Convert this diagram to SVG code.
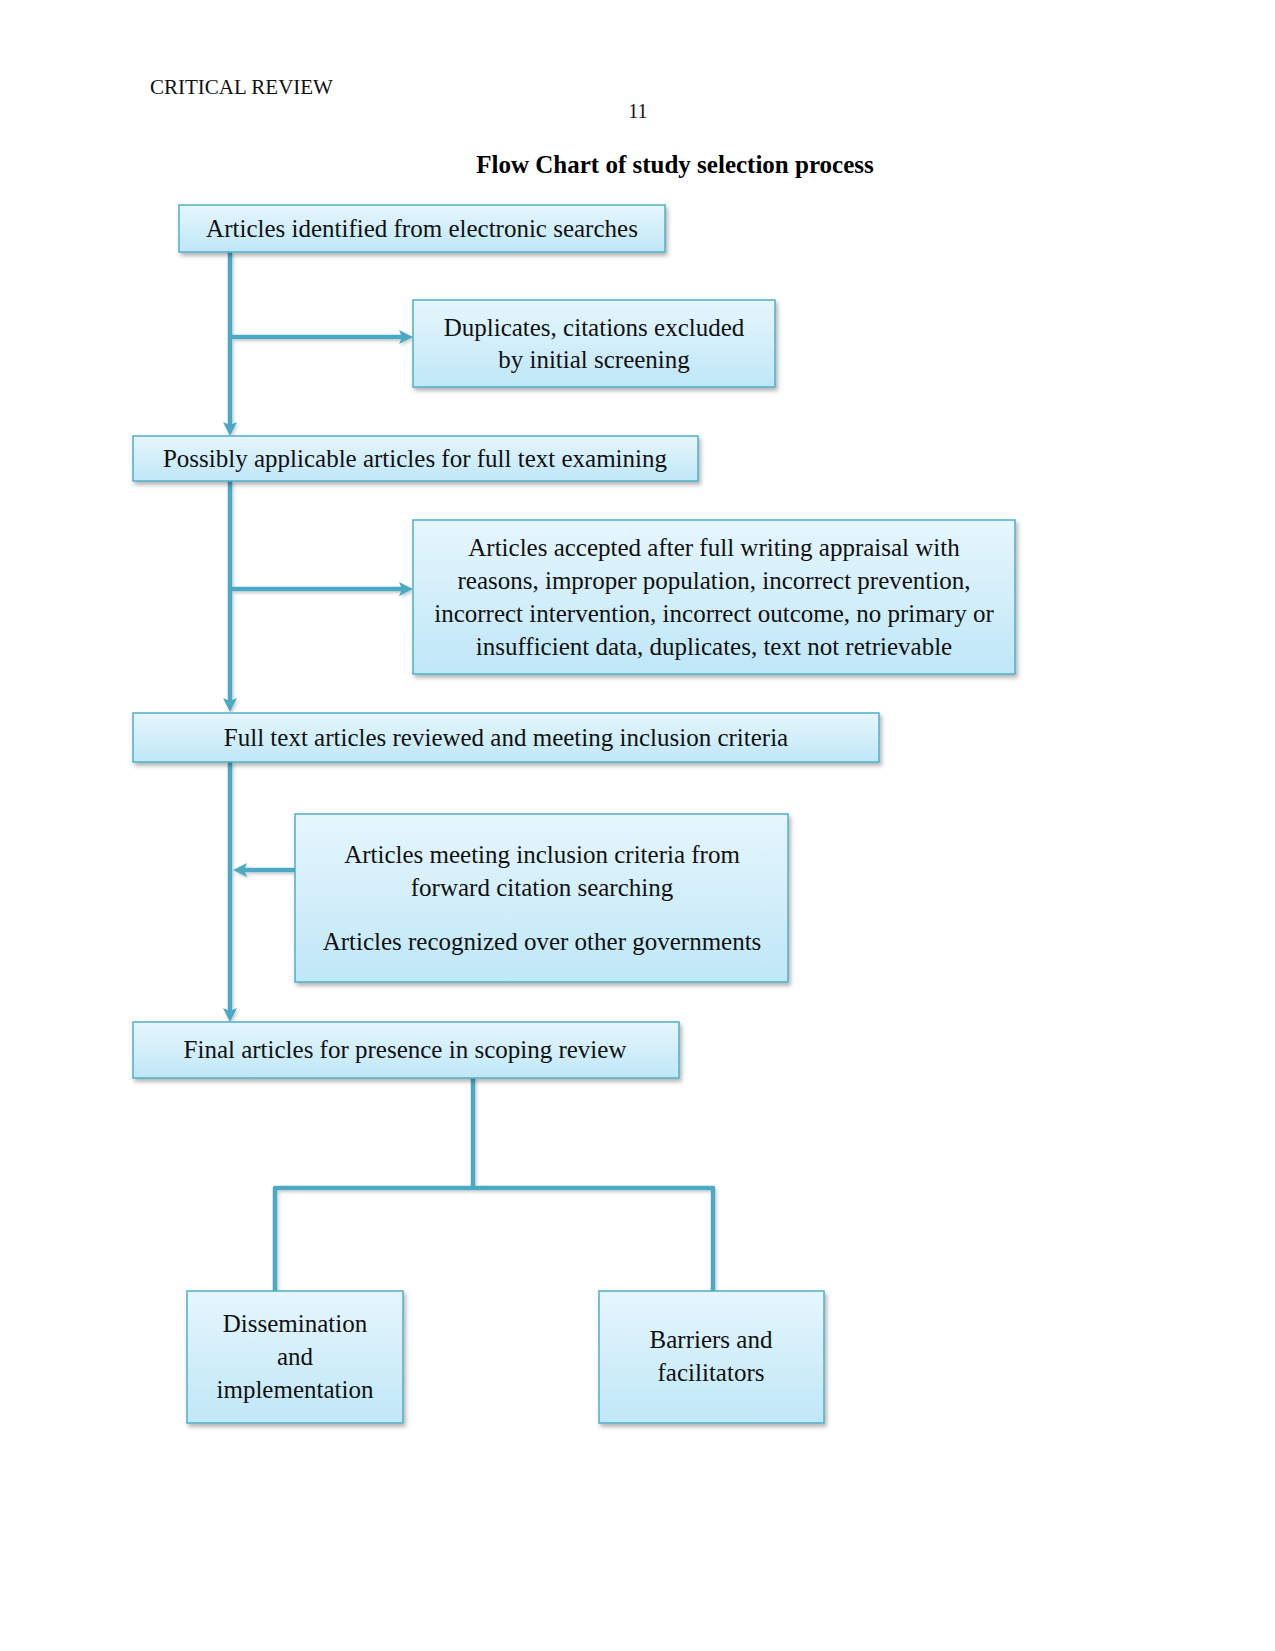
<svg xmlns="http://www.w3.org/2000/svg" width="1275" height="1651" viewBox="0 0 1275 1651">
  <style>
    .box { fill: url(#boxfill); stroke: #4FAFC9; stroke-width: 1.5; filter: url(#shadow); }
    .t { font-family: "Liberation Serif", "Times New Roman", serif; font-size: 25px; fill: #111; text-anchor: middle; }
    .conn { fill: none; stroke: #4BA9C4; stroke-width: 4.5; }
    .arrow { marker-end: url(#arr); }
  </style>
  <defs>
    <linearGradient id="boxfill" x1="0" y1="0" x2="0" y2="1">
      <stop offset="0" stop-color="#E6F6FD"/>
      <stop offset="1" stop-color="#BFE7F7"/>
    </linearGradient>
    <filter id="shadow" x="-5%" y="-10%" width="115%" height="130%">
      <feDropShadow dx="2" dy="3" stdDeviation="2" flood-color="#000" flood-opacity="0.3"/>
    </filter>
    <filter id="lshadow" x="-5%" y="-5%" width="115%" height="115%">
      <feDropShadow dx="1.5" dy="2" stdDeviation="1.5" flood-color="#000" flood-opacity="0.2"/>
    </filter>
    <marker id="arr" markerUnits="userSpaceOnUse" markerWidth="16" markerHeight="16" viewBox="0 0 16 16" refX="3" refY="8" orient="auto">
      <path d="M0,1 L14,8 L0,15 L3,8 Z" fill="#4BA9C4"/>
    </marker>
  </defs>

  <rect width="1275" height="1651" fill="#fff"/>

  <text x="150" y="94" font-family="Liberation Serif, serif" font-size="21" fill="#111">CRITICAL REVIEW</text>
  <text x="638" y="118" font-family="Liberation Serif, serif" font-size="20" fill="#111" text-anchor="middle">11</text>
  <text x="675" y="173" font-family="Liberation Serif, serif" font-size="25" font-weight="bold" fill="#000" text-anchor="middle">Flow Chart of study selection process</text>

  <g id="connectors" filter="url(#lshadow)">
    <path class="conn arrow" d="M230,252 L230,425"/>
    <path class="conn arrow" d="M230,337 L402,337"/>
    <path class="conn arrow" d="M230,481 L230,701"/>
    <path class="conn arrow" d="M230,589 L402,589"/>
    <path class="conn arrow" d="M230,762 L230,1011"/>
    <path class="conn arrow" d="M295,870 L244,870"/>
    <path class="conn" d="M473,1078 L473,1188"/>
    <path class="conn" d="M275,1291 L275,1188 L713,1188 L713,1291" stroke-linejoin="round"/>
  </g>

  <g id="node-identified">
    <rect class="box" x="179" y="205" width="486" height="47"/>
    <text class="t" x="422" y="237">Articles identified from electronic searches</text>
  </g>

  <g id="node-duplicates">
    <rect class="box" x="413" y="300" width="362" height="87"/>
    <text class="t" x="594" y="336">Duplicates, citations excluded</text>
    <text class="t" x="594" y="368">by initial screening</text>
  </g>

  <g id="node-possibly">
    <rect class="box" x="133" y="436" width="565" height="45"/>
    <text class="t" x="415" y="467">Possibly applicable articles for full text examining</text>
  </g>

  <g id="node-accepted">
    <rect class="box" x="413" y="520" width="602" height="154"/>
    <text class="t" x="714" y="556">Articles accepted after full writing appraisal with</text>
    <text class="t" x="714" y="589">reasons, improper population, incorrect prevention,</text>
    <text class="t" x="714" y="622">incorrect intervention, incorrect outcome, no primary or</text>
    <text class="t" x="714" y="655">insufficient data, duplicates, text not retrievable</text>
  </g>

  <g id="node-fulltext">
    <rect class="box" x="133" y="713" width="746" height="49"/>
    <text class="t" x="506" y="746">Full text articles reviewed and meeting inclusion criteria</text>
  </g>

  <g id="node-forward">
    <rect class="box" x="295" y="814" width="493" height="168"/>
    <text class="t" x="542" y="863">Articles meeting inclusion criteria from</text>
    <text class="t" x="542" y="896">forward citation searching</text>
    <text class="t" x="542" y="950">Articles recognized over other governments</text>
  </g>

  <g id="node-final">
    <rect class="box" x="133" y="1022" width="546" height="56"/>
    <text class="t" x="405" y="1058">Final articles for presence in scoping review</text>
  </g>

  <g id="node-dissemination">
    <rect class="box" x="187" y="1291" width="216" height="132"/>
    <text class="t" x="295" y="1332">Dissemination</text>
    <text class="t" x="295" y="1365">and</text>
    <text class="t" x="295" y="1398">implementation</text>
  </g>

  <g id="node-barriers">
    <rect class="box" x="599" y="1291" width="225" height="132"/>
    <text class="t" x="711" y="1348">Barriers and</text>
    <text class="t" x="711" y="1381">facilitators</text>
  </g>
</svg>
